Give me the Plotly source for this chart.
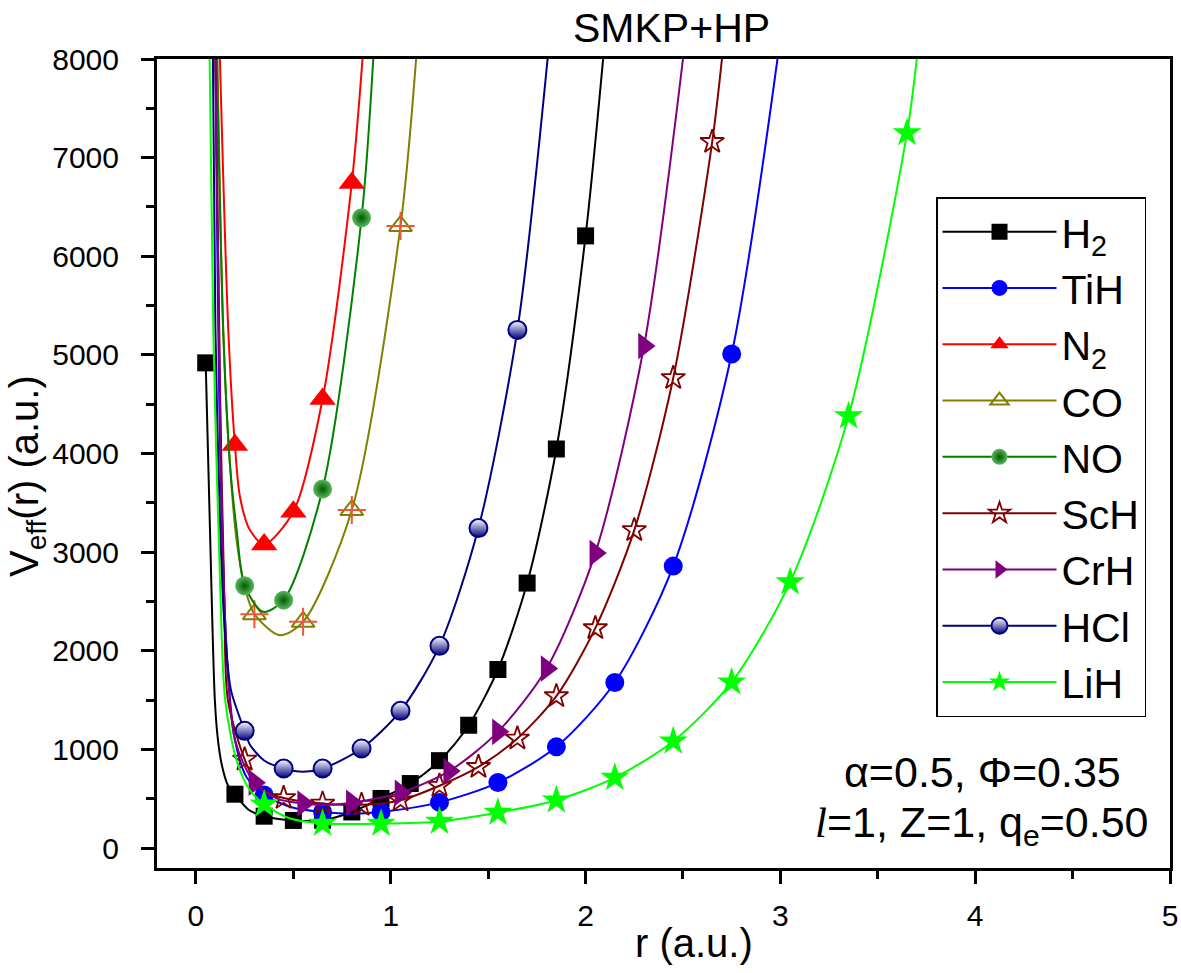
import plotly.graph_objects as go

# ---------------- data ----------------
names = ["H<sub>2</sub>", "TiH", "N<sub>2</sub>", "CO", "NO", "ScH", "CrH", "HCl", "LiH"]

# marker points
H2_r = [0.05, 0.2, 0.35, 0.5, 0.65, 0.8, 0.95, 1.1, 1.25, 1.4, 1.55, 1.7, 1.85, 2.0]
H2_v = [4920, 548, 325, 282, 284, 368, 505, 656, 888, 1247, 1812, 2688, 4047, 6207]
TiH_r = [0.35, 0.65, 0.95, 1.25, 1.55, 1.85, 2.15, 2.45, 2.75]
TiH_v = [540, 368, 368, 465, 666, 1028, 1680, 2860, 5010]
N2_r = [0.2, 0.35, 0.5, 0.65, 0.8]
N2_v = [4087, 3080, 3411, 4554, 6744]
CO_r = [0.3, 0.55, 0.8, 1.05]
CO_v = [2373, 2295, 3428, 6308]
NO_r = [0.25, 0.45, 0.65, 0.85]
NO_v = [2660, 2515, 3641, 6390]
ScH_r = [0.25, 0.45, 0.65, 0.85, 1.05, 1.25, 1.45, 1.65, 1.85, 2.05, 2.25, 2.45, 2.65]
ScH_v = [900, 510, 453, 440, 487, 634, 825, 1113, 1542, 2231, 3225, 4767, 7160]
CrH_r = [0.3, 0.55, 0.8, 1.05, 1.3, 1.55, 1.8, 2.05, 2.3]
CrH_v = [665, 453, 462, 563, 782, 1180, 1822, 2992, 5091]
HCl_r = [0.25, 0.45, 0.65, 0.85, 1.05, 1.25, 1.45, 1.65]
HCl_v = [1190, 808, 808, 1011, 1393, 2052, 3245, 5254]
LiH_r = [0.35, 0.65, 0.95, 1.25, 1.55, 1.85, 2.15, 2.45, 2.75, 3.05, 3.35, 3.65]
LiH_v = [445, 250, 250, 272, 362, 487, 717, 1085, 1683, 2698, 4381, 7251]

# curve points
H2_cr = [0.05, 0.072, 0.097, 0.113, 0.133, 0.164, 0.2, 0.27, 0.35, 0.5, 0.65, 0.8, 0.95, 1.1, 1.25, 1.4, 1.55, 1.7, 1.85, 2.0, 2.09]
H2_cv = [4920, 3225, 1500, 1095, 842, 639, 548, 390, 325, 282, 284, 368, 505, 656, 888, 1247, 1812, 2688, 4047, 6207, 8000]
TiH_cr = [0.1, 0.125, 0.16, 0.2, 0.26, 0.35, 0.5, 0.65, 0.8, 0.95, 1.25, 1.55, 1.85, 2.15, 2.45, 2.75, 2.985]
TiH_cv = [8000, 4000, 1900, 1100, 720, 540, 410, 368, 350, 368, 465, 666, 1028, 1680, 2860, 5010, 8000]
N2_cr = [0.123, 0.166, 0.2, 0.226, 0.277, 0.35, 0.5, 0.65, 0.8, 0.855]
N2_cv = [8000, 5250, 4087, 3560, 3225, 3080, 3411, 4554, 6744, 8000]
CO_cr = [0.11, 0.14, 0.174, 0.21, 0.25, 0.3, 0.43, 0.55, 0.8, 1.05, 1.13]
CO_cv = [8000, 5250, 3900, 3100, 2650, 2373, 2160, 2295, 3428, 6308, 8000]
NO_cr = [0.108, 0.14, 0.174, 0.209, 0.25, 0.345, 0.45, 0.65, 0.85, 0.91]
NO_cv = [8000, 5250, 3905, 3225, 2660, 2397, 2515, 3641, 6390, 8000]
ScH_cr = [0.1, 0.125, 0.145, 0.164, 0.25, 0.3, 0.35, 0.45, 0.65, 0.85, 1.05, 1.25, 1.45, 1.65, 1.85, 2.05, 2.25, 2.45, 2.65, 2.7]
ScH_cv = [8000, 4500, 2600, 1500, 900, 700, 590, 510, 453, 440, 487, 634, 825, 1113, 1542, 2231, 3225, 4767, 7160, 8000]
CrH_cr = [0.1, 0.125, 0.15, 0.2, 0.3, 0.42, 0.55, 0.68, 0.8, 1.05, 1.3, 1.55, 1.8, 2.05, 2.3, 2.5]
CrH_cv = [8000, 4200, 2300, 1100, 665, 500, 453, 440, 462, 563, 782, 1180, 1822, 2992, 5091, 8000]
HCl_cr = [0.087, 0.1, 0.125, 0.148, 0.18, 0.25, 0.277, 0.35, 0.45, 0.55, 0.65, 0.85, 1.05, 1.25, 1.45, 1.65, 1.805]
HCl_cv = [8000, 5250, 3200, 2210, 1600, 1190, 1050, 890, 808, 775, 808, 1011, 1393, 2052, 3245, 5254, 8000]
LiH_cr = [0.07, 0.089, 0.125, 0.15, 0.208, 0.277, 0.35, 0.48, 0.65, 0.95, 1.25, 1.55, 1.85, 2.15, 2.45, 2.75, 3.05, 3.35, 3.65, 3.7]
LiH_cv = [8000, 5250, 2600, 1500, 893, 588, 445, 304, 250, 250, 272, 362, 487, 717, 1085, 1683, 2698, 4381, 7251, 8000]

x_ticks = [0, 1, 2, 3, 4, 5]
y_ticks = [0, 1000, 2000, 3000, 4000, 5000, 6000, 7000, 8000]

# ---------------- styling ----------------
FONT = "Liberation Sans, Arial, sans-serif"
series = [
    (names[0], H2_r, H2_v, H2_cr, H2_cv, "#000000", dict(symbol="square", size=17, color="#000000")),
    (names[1], TiH_r, TiH_v, TiH_cr, TiH_cv, "#0000ff", dict(symbol="circle", size=19, color="#0000ff")),
    (names[2], N2_r, N2_v, N2_cr, N2_cv, "#ff0000", dict(symbol="triangle-up", size=23, color="#ff0000")),
    (names[3], CO_r, CO_v, CO_cr, CO_cv, "#808000", dict(symbol="triangle-up-open", size=20, color="#808000", line=dict(width=2, color="#808000"))),
    (names[4], NO_r, NO_v, NO_cr, NO_cv, "#008000", dict(symbol="circle", size=19, color="#5cb85c", gradient=dict(type="radial", color="#005a00"))),
    (names[5], ScH_r, ScH_v, ScH_cr, ScH_cv, "#800000", dict(symbol="star-open", size=18, color="#800000", line=dict(width=1.8, color="#800000"))),
    (names[6], CrH_r, CrH_v, CrH_cr, CrH_cv, "#800080", dict(symbol="triangle-right", size=23, color="#800080")),
    (names[7], HCl_r, HCl_v, HCl_cr, HCl_cv, "#000080", dict(symbol="circle", size=18, color="#ffffff", gradient=dict(type="vertical", color="#000080"), line=dict(width=2, color="#000080"))),
    (names[8], LiH_r, LiH_v, LiH_cr, LiH_cv, "#00ff00", dict(symbol="star", size=22, color="#00ff00")),
]

fig = go.Figure()
for name, mr, mv, cr, cv, col, mk in series:
    fig.add_trace(go.Scatter(x=cr, y=cv, mode="lines", line=dict(color=col, width=2, shape="spline", smoothing=0.8),
                             showlegend=False, hoverinfo="skip"))
    fig.add_trace(go.Scatter(x=mr, y=mv, mode="markers", marker=mk, showlegend=False))
    if name == "CO":
        fig.add_trace(go.Scatter(x=mr, y=mv, mode="markers", showlegend=False,
                                 marker=dict(symbol="cross-thin-open", size=20, line=dict(width=2, color=col))))
    fig.add_trace(go.Scatter(x=[None], y=[None], mode="lines+markers", name=name,
                             line=dict(color=col, width=2), marker=mk))

# reference plot area in px: left 157, right 1170, top 59, bottom 868
W, H = 1181, 973
L, R, T, B = 157, 1170, 59, 868
def px(xp):
    return (xp - L) / (R - L)
def py(yp):
    return (B - yp) / (B - T)

axis_common = dict(showline=True, linecolor="black", linewidth=3, mirror=True, showgrid=False, zeroline=False,
                   ticks="outside", ticklen=13, tickwidth=2.5, tickcolor="black", automargin=False,
                   tickfont=dict(family=FONT, size=30, color="black"))
fig.update_xaxes(range=[-0.2, 5], tickvals=x_ticks, ticktext=[str(v) for v in x_ticks],
                 minor=dict(dtick=0.5, tick0=0, ticks="outside", ticklen=8, tickwidth=2.5, tickcolor="black"),
                 ticklabelstandoff=6, **axis_common)
fig.update_yaxes(range=[-200, 8000], tickvals=y_ticks, ticktext=[str(v) for v in y_ticks],
                 minor=dict(dtick=500, tick0=0, ticks="outside", ticklen=8, tickwidth=2.5, tickcolor="black"),
                 ticklabelstandoff=16, **axis_common)

fig.update_layout(
    width=W, height=H,
    margin=dict(l=L, r=W - R, t=T, b=H - B, autoexpand=False),
    paper_bgcolor="white", plot_bgcolor="white",
    font=dict(family=FONT, color="black"),
    legend=dict(x=px(936), y=py(197), xanchor="left", yanchor="top",
                bgcolor="white", bordercolor="black", borderwidth=1.5,
                font=dict(family=FONT, size=41, color="black"), itemwidth=114,
                tracegroupgap=0),
    annotations=[
        dict(text="SMKP+HP", x=px(671), y=py(28), xref="paper", yref="paper", showarrow=False,
             font=dict(family=FONT, size=41, color="black"), xanchor="center", yanchor="middle"),
        dict(text="r (a.u.)", x=px(694), y=py(943), xref="paper", yref="paper", showarrow=False,
             font=dict(family=FONT, size=40, color="black"), xanchor="center", yanchor="middle"),
        dict(text="V<sub>eff</sub>(r) (a.u.)", x=px(27), y=py(476), xref="paper", yref="paper", showarrow=False,
             textangle=-90, font=dict(family=FONT, size=40, color="black"), xanchor="center", yanchor="middle"),
        dict(text="\u03b1=0.5, \u03a6=0.35", x=px(982), y=py(772), xref="paper", yref="paper", showarrow=False,
             font=dict(family=FONT, size=43, color="black"), xanchor="center", yanchor="middle"),
        dict(text="<span style=\"font-family:Liberation Serif\"><i>l</i></span>=1, Z=1, q<sub>e</sub>=0.50",
             x=px(982), y=py(825), xref="paper", yref="paper", showarrow=False,
             font=dict(family=FONT, size=43, color="black"), xanchor="center", yanchor="middle"),
    ],
)

fig.write_html("out.html", config={"displayModeBar": False},
               post_script="document.body.style.margin='0';document.body.style.overflow='hidden';")
